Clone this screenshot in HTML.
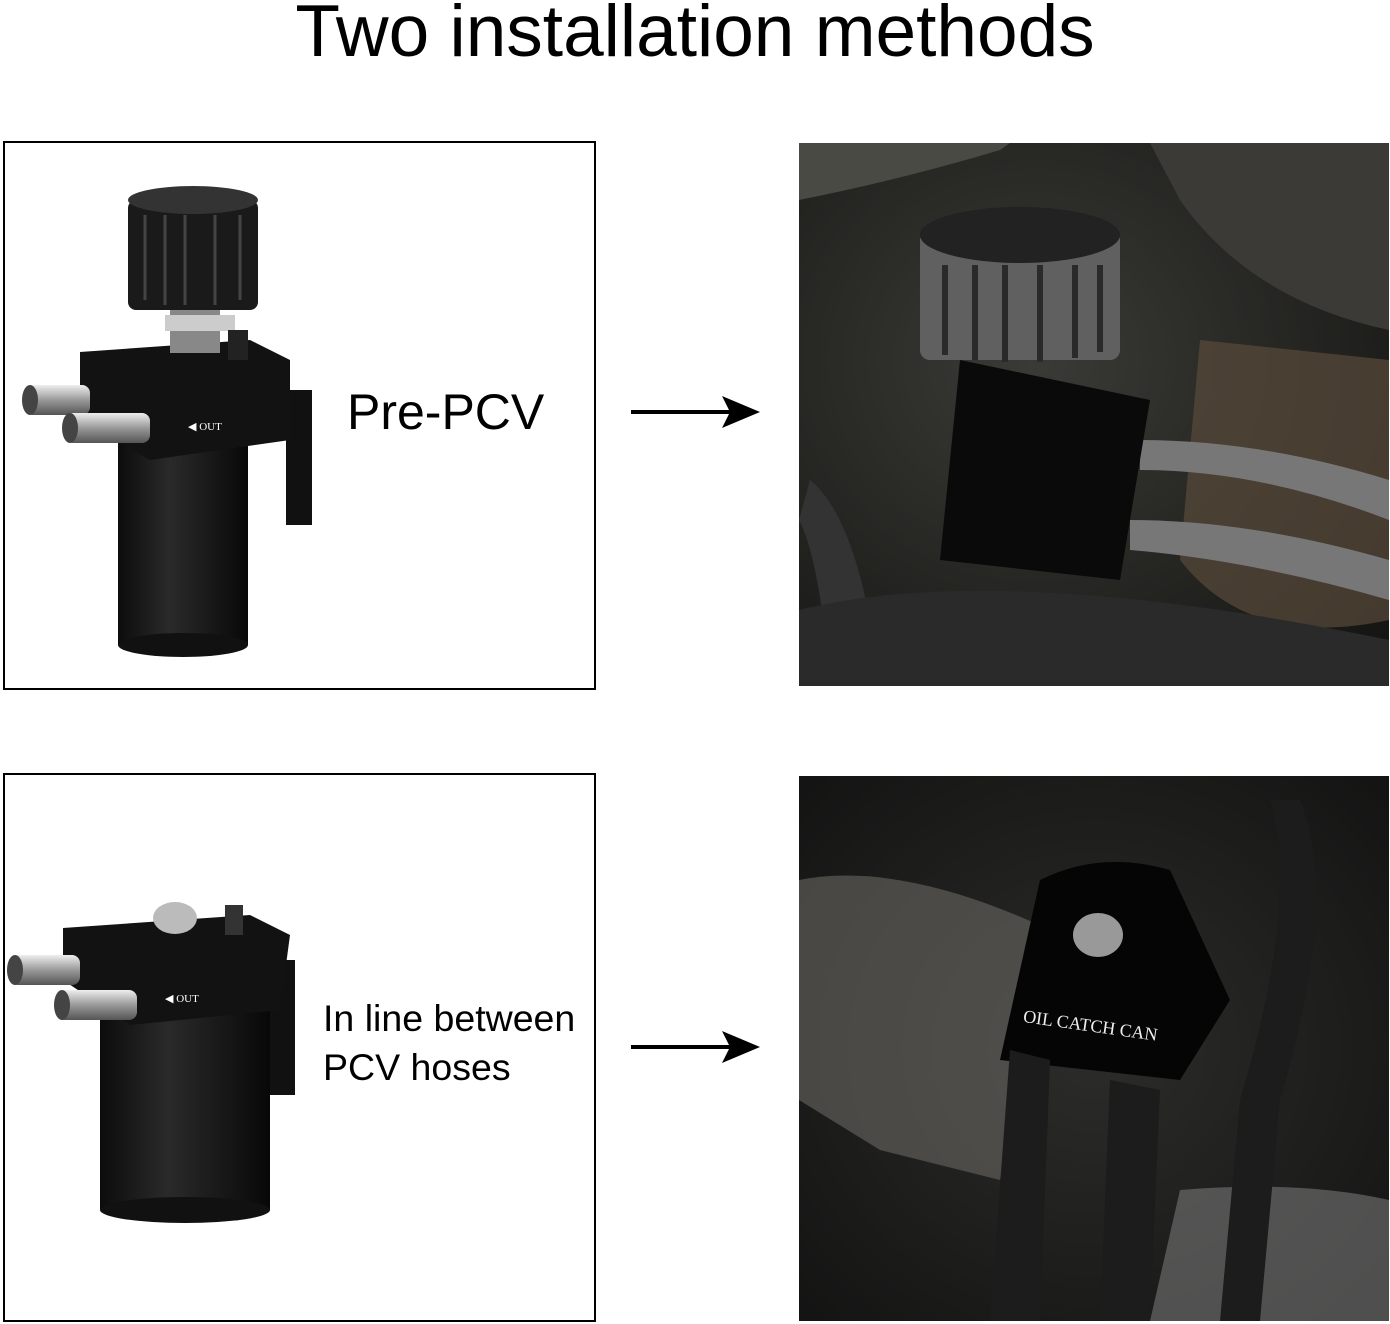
<!DOCTYPE html>
<html><head><meta charset="utf-8"><style>
html,body{margin:0;padding:0;background:#fff;width:1390px;height:1324px;overflow:hidden;position:relative;font-family:"Liberation Sans",sans-serif}
.t{position:absolute;left:0;width:1390px;text-align:center;top:-10px;font-size:73px;color:#000}
.box{position:absolute;border:2px solid #000;box-sizing:border-box}
.txt{position:absolute;color:#000}
svg{position:absolute;left:0;top:0}
</style></head><body>
<div class="t">Two installation methods</div>
<div class="box" style="left:3px;top:141px;width:593px;height:549px"></div>
<div class="box" style="left:3px;top:773px;width:593px;height:549px"></div>
<div class="txt" style="left:347px;top:383px;font-size:50px">Pre-PCV</div>
<div class="txt" style="left:323px;top:994px;font-size:37.5px;line-height:49px">In line between<br>PCV hoses</div>
<svg width="1390" height="1324" viewBox="0 0 1390 1324">
<defs>
<linearGradient id="cyl" x1="0" x2="1"><stop offset="0" stop-color="#0c0c0c"/><stop offset=".4" stop-color="#2a2a2a"/><stop offset="1" stop-color="#080808"/></linearGradient>
<linearGradient id="pipe" x1="0" y1="0" x2="0" y2="1"><stop offset="0" stop-color="#eee"/><stop offset=".5" stop-color="#999"/><stop offset="1" stop-color="#555"/></linearGradient>
<radialGradient id="p1" cx=".4" cy=".4" r=".8"><stop offset="0" stop-color="#3a3a36"/><stop offset="1" stop-color="#141412"/></radialGradient>
<radialGradient id="p2" cx=".5" cy=".5" r=".8"><stop offset="0" stop-color="#2c2c2a"/><stop offset="1" stop-color="#101010"/></radialGradient>
</defs>
<line x1="631" y1="412" x2="735" y2="412" stroke="#000" stroke-width="4"/><polygon points="722,396 760,412 722,428 730,412" fill="#000"/>
<line x1="631" y1="1047" x2="735" y2="1047" stroke="#000" stroke-width="4"/><polygon points="722,1031 760,1047 722,1063 730,1047" fill="#000"/>
<rect x="118" y="440" width="130" height="205" fill="url(#cyl)"/><ellipse cx="183" cy="645" rx="65" ry="12" fill="#111"/>
<rect x="286" y="390" width="26" height="135" fill="#111"/>
<path d="M80 352 L250 340 L290 360 L290 440 L150 460 L80 420 Z" fill="#121212"/>
<rect x="25" y="385" width="65" height="30" rx="8" fill="url(#pipe)"/><ellipse cx="30" cy="400" rx="8" ry="15" fill="#444"/>
<rect x="65" y="413" width="85" height="30" rx="8" fill="url(#pipe)"/><ellipse cx="70" cy="428" rx="8" ry="15" fill="#444"/>
<text x="188" y="430" font-size="11" fill="#fff" font-family="Liberation Serif">◀ OUT</text>
<rect x="170" y="308" width="50" height="45" fill="#888"/><rect x="165" y="315" width="70" height="16" fill="#ccc"/>
<rect x="228" y="330" width="20" height="30" fill="#222"/>
<rect x="128" y="200" width="130" height="110" rx="8" fill="#1a1a1a"/><ellipse cx="193" cy="200" rx="65" ry="14" fill="#333"/>
<g stroke="#444" stroke-width="3"><line x1="145" y1="215" x2="145" y2="300"/><line x1="165" y1="215" x2="165" y2="305"/><line x1="185" y1="215" x2="185" y2="305"/><line x1="215" y1="215" x2="215" y2="305"/><line x1="240" y1="215" x2="240" y2="300"/></g>
<rect x="100" y="1010" width="170" height="200" fill="url(#cyl)"/><ellipse cx="185" cy="1210" rx="85" ry="13" fill="#111"/>
<rect x="270" y="960" width="25" height="135" fill="#111"/>
<path d="M63 928 L250 915 L290 935 L280 1010 L130 1025 L63 980 Z" fill="#121212"/>
<ellipse cx="175" cy="918" rx="22" ry="16" fill="#bbb"/>
<rect x="225" y="905" width="18" height="30" fill="#333"/>
<rect x="10" y="955" width="70" height="30" rx="8" fill="url(#pipe)"/><ellipse cx="15" cy="970" rx="8" ry="15" fill="#444"/>
<rect x="57" y="990" width="80" height="30" rx="8" fill="url(#pipe)"/><ellipse cx="62" cy="1005" rx="8" ry="15" fill="#444"/>
<text x="165" y="1002" font-size="11" fill="#fff" font-family="Liberation Serif">◀ OUT</text>
<rect x="799" y="143" width="590" height="543" fill="url(#p1)"/>
<path d="M799 200 Q900 180 1000 150 L1010 143 L799 143Z" fill="#4a4a44"/>
<path d="M1150 143 L1389 143 L1389 330 Q1250 300 1180 200Z" fill="#3c3a36"/>
<path d="M1200 340 L1389 360 L1389 620 Q1250 650 1180 560Z" fill="#5a4a3a" opacity=".7"/>
<path d="M1140 440 Q1260 440 1389 480 L1389 520 Q1260 470 1140 470Z" fill="#777"/>
<path d="M1130 520 Q1250 520 1389 560 L1389 600 Q1250 560 1130 550Z" fill="#777"/>
<path d="M810 480 Q860 520 880 686 L830 686 Q820 560 799 520Z" fill="#333"/>
<path d="M799 610 Q1000 560 1389 640 L1389 686 L799 686Z" fill="#2a2a2a"/>
<path d="M960 360 L1150 400 L1120 580 L940 560 Z" fill="#0a0a0a"/>
<rect x="920" y="230" width="200" height="130" rx="10" fill="#606060"/>
<ellipse cx="1020" cy="235" rx="100" ry="28" fill="#222"/>
<g stroke="#2a2a2a" stroke-width="6"><line x1="945" y1="265" x2="945" y2="355"/><line x1="975" y1="265" x2="975" y2="360"/><line x1="1005" y1="265" x2="1005" y2="362"/><line x1="1040" y1="265" x2="1040" y2="362"/><line x1="1075" y1="265" x2="1075" y2="358"/><line x1="1100" y1="265" x2="1100" y2="352"/></g>
<rect x="799" y="776" width="590" height="545" fill="url(#p2)"/>
<path d="M799 880 Q900 860 1050 930 L1000 1180 L880 1150 L799 1100Z" fill="#6a6862" opacity=".6"/>
<path d="M1180 1190 Q1300 1180 1389 1200 L1389 1321 L1150 1321Z" fill="#777" opacity=".6"/>
<path d="M1040 880 Q1100 850 1170 870 L1230 1000 L1180 1080 L1000 1060 Z" fill="#050505"/>
<text x="1022" y="1030" font-size="18" fill="#eee" font-family="Liberation Serif" transform="rotate(8 1080 1030)">OIL CATCH CAN</text>
<ellipse cx="1098" cy="935" rx="25" ry="22" fill="#999"/>
<path d="M1010 1050 L1050 1060 L1040 1321 L990 1321Z" fill="#1c1c1c"/>
<path d="M1110 1080 L1160 1090 L1150 1321 L1100 1321Z" fill="#1c1c1c"/>
<path d="M1300 800 Q1340 900 1280 1100 L1260 1321 L1220 1321 L1240 1100 Q1300 900 1270 800Z" fill="#1c1c1c"/>
</svg>
</body></html>
